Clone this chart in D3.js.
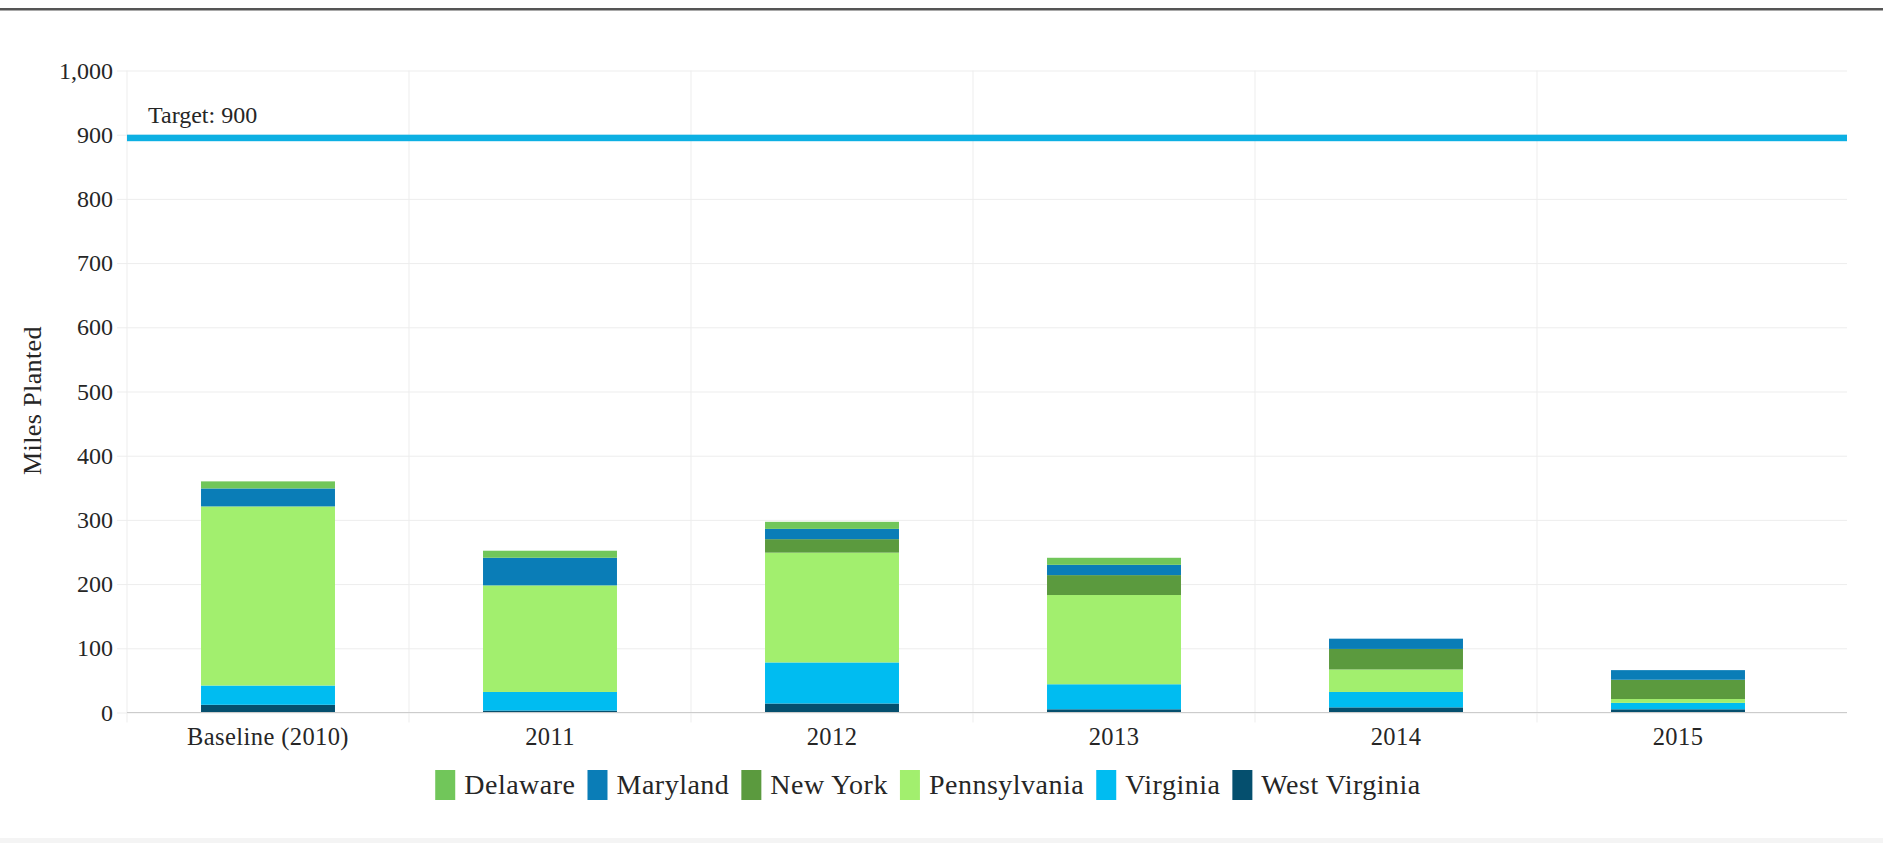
<!DOCTYPE html>
<html>
<head>
<meta charset="utf-8">
<script src="https://cdn.jsdelivr.net/npm/d3@7"></script>
<style>
  body { margin: 0; background: #fff; }
  svg { display: block; }
  text { font-family: "Liberation Serif", "Times New Roman", serif; fill: #262626; }
</style>
</head>
<body>
<svg id="chart" width="1883" height="843"></svg>
<script>
// Riparian forest buffers planted, by jurisdiction (miles)
const categories = ["Baseline (2010)", "2011", "2012", "2013", "2014", "2015"];
const stateNames = ["Delaware", "Maryland", "New York", "Pennsylvania", "Virginia", "West Virginia"];

const delaware     = [11, 11, 11, 11, 0, 0];
const maryland     = [28, 43, 16, 16, 16, 15];
const newYork      = [0, 0, 21, 31, 32, 30];
const pennsylvania = [279, 166, 171, 139, 35, 6];
const virginia     = [30, 29, 64, 39, 24, 10];
const westVirginia = [12, 3, 14, 5, 8, 5];

const yTicks = [0, 100, 200, 300, 400, 500, 600, 700, 800, 900, 1000];
const targetValue = 900;
const targetLabel = "Target: 900";
const yTitle = "Miles Planted";

const stateColors = ["#71c65a", "#0a7db7", "#5b9a3e", "#a2ef6e", "#00bcf1", "#054f6e"];
const stateValues = [delaware, maryland, newYork, pennsylvania, virginia, westVirginia];

// ---- layout ----
const W = 1883, H = 843;
const plot = { left: 127, right: 1847, top: 70.5, bottom: 712.5 };
const bandRight = 1819;

const svg = d3.select("#chart");

// header rule and footer strip
svg.append("rect").attr("x", 0).attr("y", 8).attr("width", W).attr("height", 2.5).attr("fill", "#555");
svg.append("rect").attr("x", 0).attr("y", 838).attr("width", W).attr("height", 5).attr("fill", "#f4f4f4");

const x = d3.scaleBand()
  .domain(categories)
  .range([plot.left, bandRight])
  .paddingInner(0.525)
  .paddingOuter(0.2625);

const y = d3.scaleLinear()
  .domain([0, 1000])
  .range([plot.bottom, plot.top]);

// horizontal grid lines (with a short tick stub on the left)
svg.append("g")
  .attr("transform", `translate(${plot.right},0)`)
  .call(d3.axisLeft(y).tickValues(yTicks).tickSize(plot.right - 117).tickFormat(""))
  .call(g => g.select(".domain").remove())
  .call(g => g.selectAll("line").attr("stroke", "#ededed").attr("stroke-width", 1));

// vertical grid lines between categories
const slotOffset = (x.step() - x.bandwidth()) / 2;
svg.append("g")
  .selectAll("line")
  .data(categories)
  .join("line")
  .attr("x1", d => x(d) - slotOffset)
  .attr("x2", d => x(d) - slotOffset)
  .attr("y1", plot.top)
  .attr("y2", plot.bottom + 10)
  .attr("stroke", "#ededed");

// stacked columns: first state sits on top, last at the bottom
const rows = categories.map((c, i) => {
  const r = { category: c };
  stateNames.forEach((s, k) => { r[s] = stateValues[k][i]; });
  return r;
});
const stackKeys = stateNames.slice().reverse();
const stacked = d3.stack().keys(stackKeys)(rows);
const color = d3.scaleOrdinal().domain(stateNames).range(stateColors);

svg.append("g")
  .selectAll("g")
  .data(stacked)
  .join("g")
  .attr("fill", d => color(d.key))
  .selectAll("rect")
  .data(d => d)
  .join("rect")
  .attr("x", d => x(d.data.category))
  .attr("width", x.bandwidth())
  .attr("y", d => y(d[1]))
  .attr("height", d => y(d[0]) - y(d[1]));

// x axis line
svg.append("line")
  .attr("x1", plot.left).attr("x2", plot.right)
  .attr("y1", y(0)).attr("y2", y(0))
  .attr("stroke", "#cccccc");

// y axis labels
svg.append("g")
  .attr("transform", `translate(${plot.left},0)`)
  .call(d3.axisLeft(y).tickValues(yTicks).tickSize(0).tickPadding(14).tickFormat(d3.format(",")))
  .call(g => g.select(".domain").remove())
  .call(g => g.selectAll("text").style("font-size", "24px").attr("fill", "#262626"));

// x axis labels
svg.append("g")
  .attr("transform", `translate(0,${y(0)})`)
  .call(d3.axisBottom(x).tickSize(0).tickPadding(15))
  .call(g => g.select(".domain").remove())
  .call(g => g.selectAll("text").style("font-size", "24.5px").style("letter-spacing", "0.4px").attr("fill", "#262626"));

// y axis title
svg.append("text")
  .attr("transform", `translate(41,${(plot.top + plot.bottom) / 2 + 9}) rotate(-90)`)
  .attr("text-anchor", "middle")
  .style("font-size", "26px")
  .style("letter-spacing", "0.4px")
  .text(yTitle);

// target line and its label
svg.append("rect")
  .attr("x", plot.left)
  .attr("y", y(targetValue))
  .attr("width", plot.right - plot.left)
  .attr("height", 6.5)
  .attr("fill", "#0db0e3");

svg.append("text")
  .attr("x", 148)
  .attr("y", 123)
  .style("font-size", "24px")
  .text(targetLabel);

// legend
const legend = svg.append("g");
let cursor = 0;
stateNames.forEach((name, i) => {
  const item = legend.append("g").attr("transform", `translate(${cursor},0)`);
  item.append("rect")
    .attr("x", 0).attr("y", 770)
    .attr("width", 20).attr("height", 30)
    .attr("fill", color(name));
  const t = item.append("text")
    .attr("x", 29).attr("y", 794)
    .style("font-size", "28px")
    .style("letter-spacing", "0.5px")
    .text(name);
  cursor += 29 + t.node().getComputedTextLength() + 12;
});
const legendWidth = cursor - 12;
legend.attr("transform", `translate(${928 - legendWidth / 2},0)`);
</script>
</body>
</html>
